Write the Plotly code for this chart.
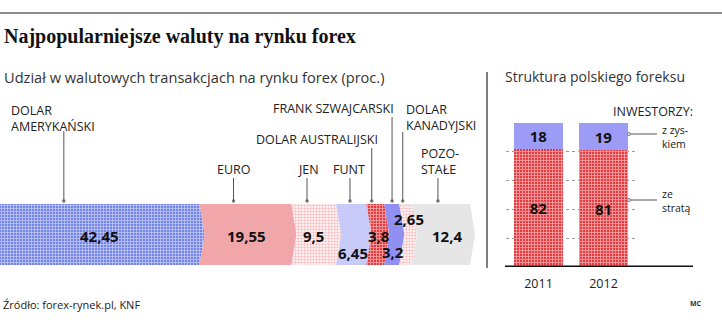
import plotly.graph_objects as go

W, H = 722, 322

# ---------------------------------------------------------------- data
currencies = ["DOLAR<br>AMERYKAŃSKI", "EURO", "JEN", "FUNT",
              "DOLAR AUSTRALIJSKI", "FRANK SZWAJCARSKI",
              "DOLAR<br>KANADYJSKI", "POZO-<br>STAŁE"]
shares = [42.45, 19.55, 9.5, 6.45, 3.8, 3.2, 2.65, 12.4]

years = ["2011", "2012"]
with_profit = [18, 19]
with_loss = [82, 81]


def pl(v):
    """Number with a Polish decimal comma."""
    return f"{v:g}".replace(".", ",")


def px(x):
    return x / W


def py(y):
    return 1 - y / H


FONT = "Open Sans"
INK = "#111111"

# ---------------------------------------------------------------- styles
RED_DENSE = dict(shape="+", fgcolor="#ffffff", bgcolor="#e53a3f", size=3, solidity=0.5)
RED_LIGHT = dict(shape=".", fgcolor="#f27e82", bgcolor="#ffffff", size=3, solidity=0.5)
BLUE_DENSE = dict(shape="+", fgcolor="#ffffff", bgcolor="#7484e6", size=3, solidity=0.5)

segment_styles = [
    dict(fillcolor="#7484e6", pattern=BLUE_DENSE),
    dict(fillcolor="#f1a6aa", pattern=None),
    dict(fillcolor="#ffffff", pattern=RED_LIGHT),
    dict(fillcolor="#c8cbf9", pattern=None),
    dict(fillcolor="#e53a3f", pattern=RED_DENSE),
    dict(fillcolor="#9090f2", pattern=None),
    dict(fillcolor="#ffffff", pattern=RED_LIGHT),
    dict(fillcolor="#e6e6e6", pattern=None),
]

# leader line position inside each segment (fraction of its width)
leader_frac = [0.32, 0.37, 0.35, 0.46, 0.30, 0.52, 0.28, 0.45]
# label block: left edge px, centre of first text line px, top of leader line px
label_pos = [(10, 110, 131), (216, 169, 178), (297, 169, 178), (332, 169, 178),
             (255, 140, 148), (272, 109, 117), (405, 109, 132), (420, 153, 178)]
LABEL_SIZE = 12.5
LINE_STEP = 16.3
# value text: horizontal nudge (units), vertical centre px
value_pos = [(0.0, 236), (0.3, 236), (0.0, 236), (0.4, 253), (0.7, 236),
             (0.2, 252), (0.7, 219), (1.2, 236)]

PX_PER_UNIT = 4.7
CHEVRON = 1.1
BAR_TOP, BAR_BOT = 204, 265

fig = go.Figure()

# ---------------------------------------------------------------- left: chevron band
start = 0.0
starts = []
for i, (v, st) in enumerate(zip(shares, segment_styles)):
    x0, x1 = start, start + v
    xs = [x0, x1, x1 + CHEVRON, x1, x0]
    ys = [1, 1, 0.5, 0, 0]
    if i > 0:
        xs.append(x0 + CHEVRON)
        ys.append(0.5)
    xs.append(x0)
    ys.append(1)
    kw = dict(fillcolor=st["fillcolor"])
    if st["pattern"]:
        kw["fillpattern"] = st["pattern"]
    fig.add_trace(go.Scatter(x=xs, y=ys, mode="none", fill="toself",
                             hoverinfo="skip", showlegend=False,
                             xaxis="x", yaxis="y", **kw))
    starts.append(start)
    start = x1

annotations = []
shapes = []

lead_x = []
for i, (name, v) in enumerate(zip(currencies, shares)):
    s0 = starts[i]
    lx = s0 + leader_frac[i] * v
    lead_x.append(lx)
    left, ytop, ltop = label_pos[i]
    n_lines = name.count("<br>") + 1
    annotations.append(dict(text=name, xref="paper", yref="paper",
                            x=px(left), y=py(ytop + (n_lines - 1) * LINE_STEP / 2),
                            xanchor="left", yanchor="middle", borderpad=0,
                            align="left", showarrow=False,
                            font=dict(family=FONT, size=LABEL_SIZE, color="#222")))
    shapes.append(dict(type="line", xref="x", yref="paper",
                       x0=lx, x1=lx, y0=py(ltop), y1=py(BAR_TOP - 3),
                       line=dict(color="#555", width=1)))
    dx, vy = value_pos[i]
    annotations.append(dict(text=f"<b>{pl(v)}</b>", xref="x", yref="paper",
                            x=s0 + v / 2 + dx, y=py(vy), xanchor="center",
                            yanchor="middle", showarrow=False, borderpad=0,
                            font=dict(family=FONT, size=15, color=INK)))

# small dots at the foot of each leader line
fig.add_trace(go.Scatter(x=lead_x, y=[py(BAR_TOP - 3)] * len(lead_x), mode="markers",
                         marker=dict(size=3.5, color="#777"),
                         xaxis="x", yaxis="y3", hoverinfo="skip",
                         showlegend=False, cliponaxis=False))

# ---------------------------------------------------------------- right: stacked bars
fig.add_trace(go.Bar(x=years, y=with_loss, xaxis="x2", yaxis="y2",
                     marker=dict(color="#e53a3f", pattern=RED_DENSE, line=dict(width=0)),
                     text=[f"<b>{v}</b>" for v in with_loss], textposition="inside",
                     insidetextanchor="middle", textangle=0,
                     textfont=dict(family=FONT, size=15, color=INK),
                     hoverinfo="skip", showlegend=False))
fig.add_trace(go.Bar(x=years, y=with_profit, xaxis="x2", yaxis="y2",
                     marker=dict(color="#9c9cf6", line=dict(width=0)),
                     text=[f"<b>{v}</b>" for v in with_profit], textposition="inside",
                     insidetextanchor="middle", textangle=0,
                     textfont=dict(family=FONT, size=15, color=INK),
                     hoverinfo="skip", showlegend=False))

# baseline under the bars
shapes.append(dict(type="line", xref="paper", yref="y2", x0=px(505), x1=px(693),
                   y0=0, y1=0, line=dict(color="#111", width=3)))
# top rule
shapes.append(dict(type="line", xref="paper", yref="paper", x0=0, x1=1,
                   y0=py(13), y1=py(13), line=dict(color="#8c8c8c", width=2)))
# divider between the two panels
shapes.append(dict(type="line", xref="paper", yref="paper", x0=px(487), x1=px(487),
                   y0=py(72), y1=py(268), line=dict(color="#555", width=1.5)))
# legend leaders on the right
for ly in (134, 200):
    shapes.append(dict(type="line", xref="paper", yref="paper", x0=px(629), x1=px(657),
                       y0=py(ly), y1=py(ly), line=dict(color="#555", width=1)))
    shapes.append(dict(type="circle", xref="paper", yref="paper",
                       x0=px(627.5), x1=px(630.5), y0=py(ly + 1.5), y1=py(ly - 1.5),
                       line=dict(color="#777", width=1), fillcolor="white"))

texts = [
    ("<b>Najpopularniejsze waluty na rynku forex</b>", 3, 37, 20, "Liberation Serif", "#111", "left"),
    ("Udział w walutowych transakcjach na rynku forex (proc.)", 3, 77, 14.6, FONT, "#333", "left"),
    ("Struktura polskiego foreksu", 504, 77, 14, FONT, "#333", "left"),
    ("INWESTORZY:", 694, 111, 12.5, FONT, "#222", "right"),
    ("z zys-<br>kiem", 661, 136.5, 10.5, FONT, "#222", "left"),
    ("ze<br>stratą", 661, 200.5, 10.5, FONT, "#222", "left"),
    ("Źródło: forex-rynek.pl, KNF", 2, 304, 11, FONT, "#222", "left"),
    ("<b>MC</b>", 703, 303, 7, FONT, "#333", "right"),
]
for t, x, y, size, fam, col, anc in texts:
    annotations.append(dict(text=t, xref="paper", yref="paper", x=px(x), y=py(y),
                            xanchor=anc, yanchor="middle", align=anc, showarrow=False,
                            borderpad=0, font=dict(family=fam, size=size, color=col)))

fig.update_layout(
    width=W, height=H, margin=dict(l=0, r=0, t=0, b=0),
    paper_bgcolor="white", plot_bgcolor="rgba(0,0,0,0)",
    barmode="stack", bargap=0.26,
    xaxis=dict(domain=[0, 1], range=[0, W / PX_PER_UNIT], visible=False, fixedrange=True),
    yaxis=dict(domain=[py(BAR_BOT), py(BAR_TOP)], range=[0, 1], visible=False, fixedrange=True),
    yaxis3=dict(domain=[0, 1], range=[0, 1], visible=False, anchor="x", fixedrange=True),
    xaxis2=dict(domain=[px(506), px(636)], range=[-0.5, 1.5], anchor="y2",
                showgrid=False, zeroline=False, showline=False, ticks="",
                ticklabelstandoff=7,
                tickfont=dict(family=FONT, size=12.5, color="#222"), fixedrange=True),
    yaxis2=dict(domain=[py(267), py(123)], range=[0, 100], anchor="x2",
                dtick=20, showgrid=True, gridcolor="#9a9a9a", griddash="dot",
                gridwidth=1, showticklabels=False, zeroline=False, ticks="",
                fixedrange=True),
    annotations=annotations, shapes=shapes,
    font=dict(family=FONT),
)

fig.write_html("out.html")
